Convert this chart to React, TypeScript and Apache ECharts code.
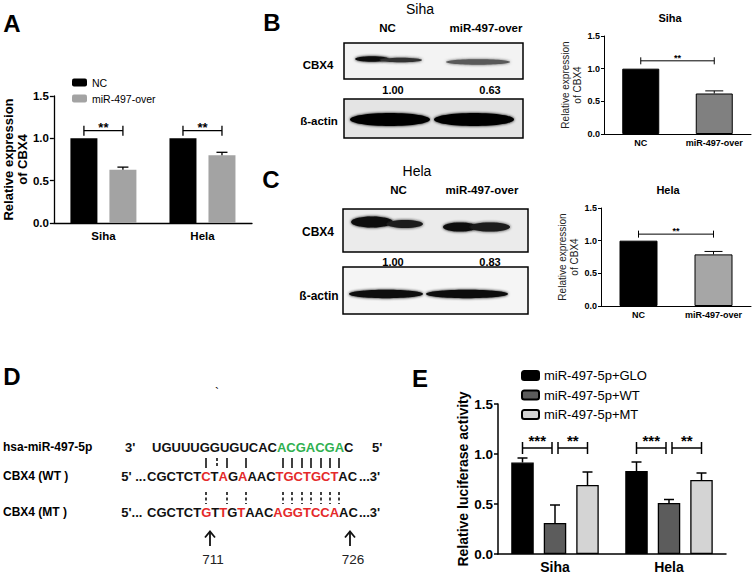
import React, { useEffect, useRef } from "react";
import * as echarts from "echarts";

const FONT = "'Liberation Sans', Arial, Helvetica, sans-serif";

// ---------- Panel A ----------
const aCategories = ["Siha", "Hela"];
const aNames = ["NC", "miR-497-over"];
const aNC = [1.0, 1.0];
const aNCErr = [0, 0];
const aOver = [0.63, 0.8];
const aOverErr = [0.03, 0.035];
const aSig = ["**", "**"];
const aSigLevel = [1.09, 1.09];

// ---------- Panels B / C (bar charts) ----------
const wbCategories = ["NC", "miR-497-over"];
const sihaValues = [1.0, 0.62];
const sihaErr = [0, 0.04];
const helaValues = [1.0, 0.79];
const helaErr = [0, 0.045];
const sihaDensity = ["1.00", "0.63"];
const helaDensity = ["1.00", "0.83"];
const wbSig = "**";
const sihaSigLevel = 1.12;
const helaSigLevel = 1.1;

// ---------- Panel E ----------
const eCategories = ["Siha", "Hela"];
const eNames = ["miR-497-5p+GLO", "miR-497-5p+WT", "miR-497-5p+MT"];
const eGLO = [0.915, 0.83];
const eGLOErr = [0.045, 0.09];
const eWT = [0.31, 0.51];
const eWTErr = [0.18, 0.035];
const eMT = [0.69, 0.74];
const eMTErr = [0.13, 0.07];
const eSigLeft = ["***", "***"];
const eSigRight = ["**", "**"];
const eSigLevel = [1.06, 1.06];

// ---------- Axis ticks ----------
const yTicks = [0, 0.5, 1.0, 1.5];

// ---------- Panel D (sequence) ----------
const mirLabel = "hsa-miR-497-5p";
const wtLabel = "CBX4 (WT )";
const mtLabel = "CBX4 (MT )";
const mirSeqRich = "UGUUUGGUGUCAC{g|ACGACGA}C";
const wtSeqRich = "CGCTCT{r|C}T{r|A}G{r|A}AAC{r|TGCTGCT}AC";
const mtSeqRich = "CGCTCT{r|G}T{r|T}G{r|T}AAC{r|AGGTCCA}AC";
const sitePositions = ["711", "726"];

const RED = "#e42a2a";
const GREEN = "#2fb050";

function errSeries(gi: number, vals: number[], errs: number[], offset: number, cap: number, lw: number) {
  return {
    type: "custom",
    xAxisIndex: gi,
    yAxisIndex: gi,
    z: 3,
    silent: true,
    data: vals.map((v, i) => [i, v, errs[i]]),
    renderItem: (params: any, api: any) => {
      const e = api.value(2);
      if (!e) return null;
      const b = api.coord([api.value(0), api.value(1)]);
      const t = api.coord([api.value(0), api.value(1) + e]);
      const x = b[0] + offset;
      return {
        type: "group",
        children: [
          { type: "line", shape: { x1: x, y1: b[1], x2: x, y2: t[1] }, style: { stroke: "#000", lineWidth: lw } },
          { type: "line", shape: { x1: x - cap, y1: t[1], x2: x + cap, y2: t[1] }, style: { stroke: "#000", lineWidth: lw } },
        ],
      };
    },
  };
}

type Br = { c1: number; o1: number; c2: number; o2: number; y: number; t: string };
function bracketSeries(gi: number, items: Br[], tickHalf: number, fontSize: number, starDy: number, lw: number) {
  return {
    type: "custom",
    xAxisIndex: gi,
    yAxisIndex: gi,
    z: 4,
    silent: true,
    data: items.map((it) => [it.c1, it.y, it.c2]),
    renderItem: (params: any, api: any) => {
      const it = items[params.dataIndex];
      const p1 = api.coord([it.c1, it.y]);
      const p2 = api.coord([it.c2, it.y]);
      const x1 = p1[0] + it.o1;
      const x2 = p2[0] + it.o2;
      const y = p1[1];
      const st = { stroke: "#000", lineWidth: lw };
      return {
        type: "group",
        children: [
          { type: "line", shape: { x1, y1: y, x2, y2: y }, style: st },
          { type: "line", shape: { x1, y1: y - tickHalf, x2: x1, y2: y + tickHalf }, style: st },
          { type: "line", shape: { x1: x2, y1: y - tickHalf, x2, y2: y + tickHalf }, style: st },
          {
            type: "text",
            style: {
              text: it.t,
              x: (x1 + x2) / 2,
              y: y - starDy,
              align: "center",
              verticalAlign: "middle",
              fontSize,
              fontWeight: "bold",
              fontFamily: FONT,
              fill: "#000",
            },
          },
        ],
      };
    },
  };
}

const T = (text: string, x: number, y: number, o: any = {}) => ({
  type: "text",
  x,
  y,
  silent: true,
  style: {
    text,
    fill: "#000",
    fontFamily: FONT,
    fontSize: 12,
    fontWeight: "bold",
    align: "center",
    verticalAlign: "middle",
    ...o,
  },
});

const rect = (x: number, y: number, w: number, h: number, fill: string) => ({
  type: "rect",
  silent: true,
  shape: { x, y, width: w, height: h },
  style: { fill, stroke: "#000", lineWidth: 1.5 },
});

const band = (cx: number, cy: number, rx: number, ry: number, fill: string, blur = 3) => ({
  type: "ellipse",
  silent: true,
  shape: { cx, cy, rx, ry },
  style: { fill, shadowBlur: blur, shadowColor: fill },
});

function yAxisBase(gi: number, fontSize: number, margin: number, lw: number, tickLen: number) {
  return {
    gridIndex: gi,
    type: "value",
    min: yTicks[0],
    max: yTicks[yTicks.length - 1],
    interval: yTicks[1] - yTicks[0],
    axisLine: { show: true, lineStyle: { color: "#000", width: lw } },
    axisTick: { show: true, length: tickLen, lineStyle: { color: "#000", width: lw } },
    splitLine: { show: false },
    axisLabel: {
      color: "#000",
      fontWeight: "bold",
      fontSize,
      fontFamily: FONT,
      margin,
      formatter: (v: number) => v.toFixed(1),
    },
  };
}

function xAxisBase(gi: number, data: string[], fontSize: number, margin: number, lw: number) {
  return {
    gridIndex: gi,
    type: "category",
    data,
    axisLine: { show: true, lineStyle: { color: "#000", width: lw } },
    axisTick: { show: false },
    axisLabel: { color: "#000", fontWeight: "bold", fontSize, fontFamily: FONT, margin, interval: 0 },
  };
}

function buildOption() {
  const aBW = 27;
  const aGap = 12;
  const aOff = (aBW + aGap) / 2;
  const eBW = 22.5;
  const eGap = 10;
  const eStep = eBW + eGap;

  const topPipes = [206, 217, 227, 246, 283, 292, 302, 311, 321, 330, 339];
  const botPipes = [206, 227, 246, 283, 292, 302, 311, 321, 330, 339];

  const seqStyle = { fontSize: 13, fontWeight: "bold", fontFamily: FONT, fill: "#111" };
  const richSeq = {
    r: { ...seqStyle, fill: RED },
    g: { ...seqStyle, fill: GREEN },
  };

  const graphic: any[] = [
    // panel letters
    T("A", 12, 23.5, { fontSize: 24 }),
    T("B", 272, 22.5, { fontSize: 24 }),
    T("C", 271, 179, { fontSize: 24 }),
    T("D", 12, 376.5, { fontSize: 24 }),
    T("E", 420, 378.5, { fontSize: 24 }),

    // ---- B western blot ----
    T("Siha", 420, 9, { fontSize: 14, fontWeight: "normal" }),
    T(wbCategories[0], 387.5, 28, { fontSize: 11.5 }),
    T(wbCategories[1], 486, 28, { fontSize: 11.5 }),
    rect(344, 43, 179, 36, "#f3f3f3"),
    band(372, 59, 17, 2.8, "#111"),
    band(401, 60, 21, 2.3, "#333"),
    band(478, 62, 32, 2.7, "#5a5a5a"),
    T("CBX4", 318, 65, { fontSize: 11.5 }),
    T(sihaDensity[0], 393, 90, { fontSize: 11 }),
    T(sihaDensity[1], 490, 90, { fontSize: 11 }),
    rect(344, 99, 179, 39, "#e4e4e4"),
    band(390, 119.5, 40, 6.5, "#060606"),
    band(474, 119.5, 40, 6.5, "#060606"),
    T("ß-actin", 319, 121, { fontSize: 11.5 }),

    // ---- C western blot ----
    T("Hela", 417, 171, { fontSize: 14, fontWeight: "normal" }),
    T(wbCategories[0], 398.5, 190, { fontSize: 11.5 }),
    T(wbCategories[1], 482, 190, { fontSize: 11.5 }),
    rect(343, 209, 185, 43, "#ebebeb"),
    band(372, 222, 21, 5.5, "#0a0a0a"),
    band(405, 224, 18, 4, "#1e1e1e"),
    band(460, 227, 17, 4.5, "#111"),
    band(490, 227, 20, 4.5, "#1a1a1a"),
    T("CBX4", 318, 232, { fontSize: 12 }),
    T(helaDensity[0], 393, 262, { fontSize: 11 }),
    T(helaDensity[1], 490, 262, { fontSize: 11 }),
    rect(343, 267, 185, 47, "#f5f5f5"),
    band(386, 294, 37, 4.2, "#111"),
    band(467, 294, 41, 4.2, "#111"),
    T("ß-actin", 319, 296, { fontSize: 12 }),

    // ---- D sequence alignment ----
    T("`", 217, 393, { fontSize: 12, fontWeight: "normal" }),
    T(mirLabel, 3, 447, { align: "left", fontSize: 12 }),
    T(wtLabel, 3, 476, { align: "left", fontSize: 12 }),
    T(mtLabel, 3, 512, { align: "left", fontSize: 12 }),
    T("3'", 125, 447, { align: "left", ...seqStyle }),
    T(mirSeqRich, 152, 447, { align: "left", ...seqStyle, rich: richSeq }),
    T("5'", 372, 447, { align: "left", ...seqStyle }),
    T("5' ...", 146, 476, { align: "right", ...seqStyle }),
    T(wtSeqRich, 147, 476, { align: "left", ...seqStyle, rich: richSeq }),
    T("...3'", 359, 476, { align: "left", ...seqStyle }),
    T("5'... ", 146, 512, { align: "right", ...seqStyle }),
    T(mtSeqRich, 147, 512, { align: "left", ...seqStyle, rich: richSeq }),
    T("...3'", 359, 512, { align: "left", ...seqStyle }),
    ...topPipes.map((x, i) => ({
      type: "line",
      silent: true,
      shape: { x1: x, y1: 458, x2: x, y2: 468 },
      style: { stroke: "#111", lineWidth: 1.6, lineDash: i === 1 ? [3, 2] : null },
    })),
    ...botPipes.map((x) => ({
      type: "line",
      silent: true,
      shape: { x1: x, y1: 492, x2: x, y2: 504 },
      style: { stroke: "#111", lineWidth: 1.6, lineDash: [3, 2.5] },
    })),
    ...[210, 350].flatMap((x) => [
      { type: "line", silent: true, shape: { x1: x, y1: 546, x2: x, y2: 532 }, style: { stroke: "#111", lineWidth: 1.8 } },
      {
        type: "polyline",
        silent: true,
        shape: { points: [[x - 5, 537.5], [x, 531.5], [x + 5, 537.5]] },
        style: { stroke: "#111", lineWidth: 1.8, fill: "none" },
      },
    ]),
    T(sitePositions[0], 213, 559, { fontSize: 13.5, fontWeight: "normal", fill: "#222" }),
    T(sitePositions[1], 353, 559, { fontSize: 13.5, fontWeight: "normal", fill: "#222" }),
  ];

  const series: any[] = [
    // Panel A
    {
      name: aNames[0],
      type: "bar",
      xAxisIndex: 0,
      yAxisIndex: 0,
      data: aNC,
      barWidth: aBW,
      barGap: (aGap / aBW) * 100 + "%",
      itemStyle: { color: "#000" },
    },
    {
      name: aNames[1],
      type: "bar",
      xAxisIndex: 0,
      yAxisIndex: 0,
      data: aOver,
      barWidth: aBW,
      barGap: (aGap / aBW) * 100 + "%",
      itemStyle: { color: "#a3a3a3" },
    },
    errSeries(0, aNC, aNCErr, -aOff, 5.5, 1.3),
    errSeries(0, aOver, aOverErr, aOff, 5.5, 1.3),
    bracketSeries(
      0,
      aCategories.map((_, i) => ({ c1: i, o1: -aOff, c2: i, o2: aOff, y: aSigLevel[i], t: aSig[i] })),
      5,
      13,
      3.5,
      1.3
    ),

    // Panel B chart (Siha)
    {
      name: "Siha",
      type: "bar",
      xAxisIndex: 1,
      yAxisIndex: 1,
      barWidth: 37,
      data: sihaValues.map((v, i) => ({ value: v, itemStyle: { color: i === 0 ? "#000" : "#808080" } })),
      itemStyle: { borderColor: "#000", borderWidth: 1 },
    },
    errSeries(1, sihaValues, sihaErr, 0, 9, 1),
    bracketSeries(1, [{ c1: 0, o1: 0, c2: 1, o2: 0, y: sihaSigLevel, t: wbSig }], 3.5, 9, 3, 1),

    // Panel C chart (Hela)
    {
      name: "Hela",
      type: "bar",
      xAxisIndex: 2,
      yAxisIndex: 2,
      barWidth: 38,
      data: helaValues.map((v, i) => ({ value: v, itemStyle: { color: i === 0 ? "#000" : "#a6a6a6" } })),
      itemStyle: { borderColor: "#000", borderWidth: 1 },
    },
    errSeries(2, helaValues, helaErr, 0, 9, 1),
    bracketSeries(2, [{ c1: 0, o1: 0, c2: 1, o2: 0, y: helaSigLevel, t: wbSig }], 3.5, 9, 3, 1),

    // Panel E
    ...[eGLO, eWT, eMT].map((d, k) => ({
      name: eNames[k],
      type: "bar",
      xAxisIndex: 3,
      yAxisIndex: 3,
      data: d,
      barWidth: eBW,
      barGap: (eGap / eBW) * 100 + "%",
      itemStyle: { color: ["#000", "#5c5c5c", "#d4d4d4"][k], borderColor: "#000", borderWidth: 1.3 },
    })),
    errSeries(3, eGLO, eGLOErr, -eStep, 5, 1.5),
    errSeries(3, eWT, eWTErr, 0, 5, 1.5),
    errSeries(3, eMT, eMTErr, eStep, 5, 1.5),
    bracketSeries(
      3,
      eCategories.flatMap((_, i) => [
        { c1: i, o1: -eStep, c2: i, o2: -3, y: eSigLevel[i], t: eSigLeft[i] },
        { c1: i, o1: 3, c2: i, o2: eStep, y: eSigLevel[i], t: eSigRight[i] },
      ]),
      6,
      15,
      7.9,
      1.5
    ),
  ];

  const yA: any = yAxisBase(0, 11.5, 5, 1.3, 4);
  yA.name = "Relative expression\nof CBX4";
  yA.nameLocation = "middle";
  yA.nameRotate = 90;
  yA.nameGap = 20;
  yA.nameTextStyle = { fontWeight: "bold", fontSize: 13, fontFamily: FONT, color: "#000", lineHeight: 14 };

  const yB: any = yAxisBase(1, 9, 4, 1, 3);
  yB.name = "Relative expression\nof CBX4";
  yB.nameLocation = "middle";
  yB.nameRotate = 90;
  yB.nameGap = 18;
  yB.nameTextStyle = { fontSize: 10, fontFamily: FONT, color: "#222", lineHeight: 12 };

  const yC: any = yAxisBase(2, 9, 4, 1, 3);
  yC.name = "Relative expression\nof CBX4";
  yC.nameLocation = "middle";
  yC.nameRotate = 90;
  yC.nameGap = 17;
  yC.nameTextStyle = { fontSize: 10, fontFamily: FONT, color: "#222", lineHeight: 12 };

  const yE: any = yAxisBase(3, 13.5, 5, 1.5, 4);
  yE.name = "Relative luciferase activity";
  yE.nameLocation = "middle";
  yE.nameRotate = 90;
  yE.nameGap = 28;
  yE.nameTextStyle = { fontWeight: "bold", fontSize: 14, fontFamily: FONT, color: "#000" };

  return {
    animation: false,
    backgroundColor: "#fff",
    title: [
      { text: "Siha", left: 665, top: 7, textAlign: "center", textStyle: { fontSize: 11, fontWeight: "bold", fontFamily: FONT, color: "#000" } },
      { text: "Hela", left: 663, top: 179, textAlign: "center", textStyle: { fontSize: 11, fontWeight: "bold", fontFamily: FONT, color: "#000" } },
    ],
    legend: [
      {
        data: aNames,
        orient: "vertical",
        left: 72,
        top: 77,
        padding: 0,
        itemWidth: 15,
        itemHeight: 8,
        itemGap: 5,
        selectedMode: false,
        textStyle: { fontSize: 10.5, fontFamily: FONT, color: "#000" },
      },
      {
        data: eNames,
        orient: "vertical",
        left: 521,
        top: 369,
        padding: 0,
        itemWidth: 17,
        itemHeight: 9,
        itemGap: 6.5,
        selectedMode: false,
        textStyle: { fontSize: 13, fontFamily: FONT, color: "#000" },
      },
    ],
    grid: [
      { left: 47, top: 96, width: 205, height: 127 },
      { left: 604, top: 36, width: 147, height: 98 },
      { left: 601, top: 208, width: 150, height: 98 },
      { left: 498, top: 404, width: 228, height: 152 },
    ],
    xAxis: [
      xAxisBase(0, aCategories, 11.5, 6.5, 1.3),
      xAxisBase(1, wbCategories, 9, 4, 1),
      xAxisBase(2, wbCategories, 9, 4, 1),
      xAxisBase(3, eCategories, 14, 6, 1.5),
    ],
    yAxis: [yA, yB, yC, yE],
    graphic,
    series,
  };
}

export default function App() {
  const ref = useRef<HTMLDivElement>(null);
  useEffect(() => {
    document.body.style.margin = "0";
    const chart = echarts.init(ref.current!, null, { renderer: "svg" });
    chart.setOption(buildOption() as any);
    return () => chart.dispose();
  }, []);
  return (
    <div
      ref={ref}
      style={{ width: 752, height: 574, position: "absolute", left: 0, top: 0, background: "#fff" }}
    />
  );
}
